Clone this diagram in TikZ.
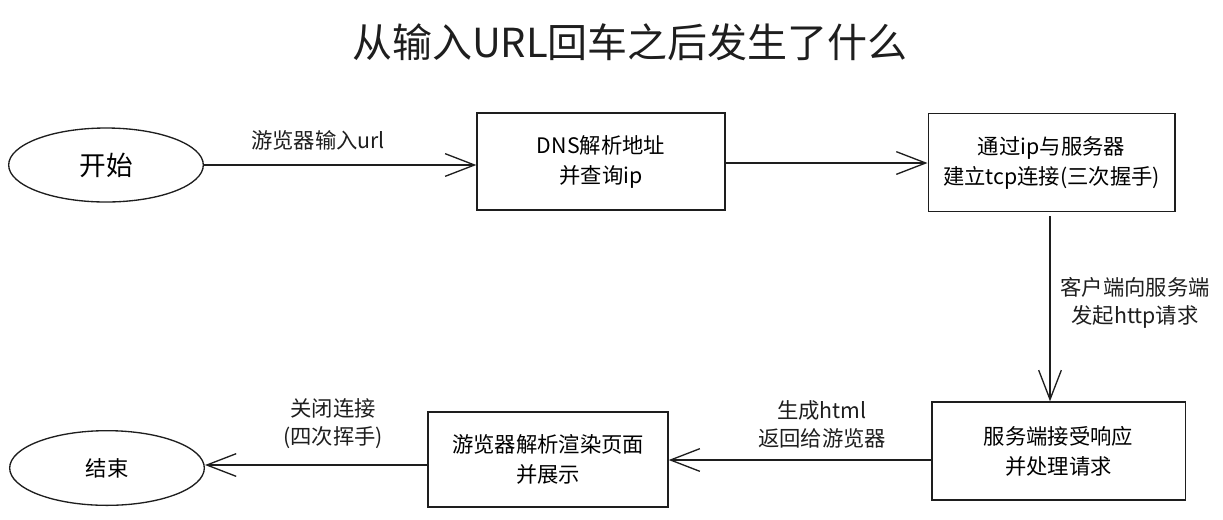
\documentclass[tikz,border=0pt]{standalone}
\usepackage{fontspec}
\setmainfont{Noto Sans CJK SC}
\usetikzlibrary{shapes.geometric,arrows.meta}
\definecolor{ink}{HTML}{1E1E1E}
\tikzset{
  flowbox/.style={draw=ink, line width=1pt, rectangle, align=center, font=\fontsize{16}{22.5}\selectfont, inner sep=0pt},
  term/.style={draw=ink, line width=1pt, ellipse, inner sep=0pt},
  lbl/.style={align=center, font=\fontsize{16}{21}\selectfont, text=ink, inner sep=0pt},
  flow/.style={draw=ink, line width=1pt, -{Straight Barb[length=22pt,width=17pt,line width=1pt]}}
}
\begin{document}
\begin{tikzpicture}[x=0.75pt,y=-0.75pt]
\useasboundingbox (0,0) rectangle (1223,519);
\node[text=ink, font=\fontsize{30}{36}\selectfont] (title) at (630,42) {从输入URL回车之后发生了什么};

\node[term, minimum width=146pt, minimum height=55.5pt, font=\fontsize{20}{24}\selectfont] (start) at (106,165) {开始};
\node[flowbox, minimum width=186pt, minimum height=72.75pt] (dns) at (601,161.5) {DNS解析地址\\并查询ip};
\node[flowbox, minimum width=185pt, minimum height=73.5pt] (tcp) at (1051.5,162.5) {通过ip与服务器\\建立tcp连接(三次握手)};
\node[flowbox, minimum width=190pt, minimum height=73.5pt] (srv) at (1058.5,451) {服务端接受响应\\并处理请求};
\node[flowbox, minimum width=180pt, minimum height=71.25pt] (rend) at (548,459.5) {游览器解析渲染页面\\并展示};
\node[term, minimum width=146pt, minimum height=56pt, font=\fontsize{16}{20}\selectfont] (end) at (107,468) {结束};

\node[lbl] (l1) at (318,140) {游览器输入url};
\node[lbl] (l2) at (1135,303) {客户端向服务端\\发起http请求};
\node[lbl] (l3) at (822,424) {生成html\\返回给游览器};
\node[lbl] (l4) at (333,424) {关闭连接\\(四次挥手)};

\draw[flow] (start.east |- 0,165) -- (dns.west |- 0,165);
\draw[flow] (dns.east |- 0,163) -- (tcp.west |- 0,163);
\draw[flow] (1050,216) -- (srv.north -| 1050,0);
\draw[flow] (srv.west |- 0,460) -- (rend.east |- 0,460);
\draw[flow] (rend.west |- 0,465) -- (end.east |- 0,465);
\end{tikzpicture}
\end{document}
